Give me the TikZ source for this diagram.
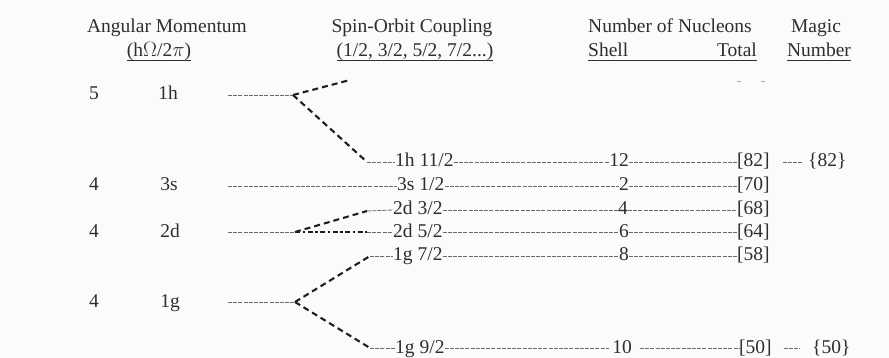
\documentclass[tikz,border=0pt]{standalone}
\usepackage{fontspec}
\setmainfont{Liberation Serif}
\definecolor{textgray}{HTML}{2E2E2E}
\definecolor{linegray}{HTML}{6A6A6A}
\definecolor{bg}{HTML}{FBFBF9}
\begin{document}
\begin{tikzpicture}[x=1pt,y=-1pt,
  txt/.style={inner sep=0pt, anchor=base, text=textgray, font=\fontsize{19.5}{22}\selectfont},
  lbl/.style={txt, anchor=base west},
  thinline/.style={draw=linegray, line width=0.8pt, dash pattern=on 4pt off 1.2pt},
  thickdash/.style={draw=black!88, line width=2.1pt, dash pattern=on 6pt off 4pt},
  dotdash/.style={draw=black!88, line width=2.1pt, dash pattern=on 5pt off 2.5pt on 2.5pt off 2.5pt},
  uline/.style={draw=textgray, line width=0.8pt}
]
\fill[bg] (0,0) rectangle (889,358);
\useasboundingbox (0,0) rectangle (889,358);

% headers
\node[txt] (hA1) at (167,33) {Angular Momentum};
\node[txt] (hA2) at (159,57) {(h$\Omega$/2$\pi$)};
\node[txt] (hS1) at (412,33) {Spin-Orbit Coupling};
\node[txt] (hS2) at (415,57) {(1/2, 3/2, 5/2, 7/2...)};
\node[lbl] (hN1) at (588,33) {Number of Nucleons};
\node[lbl] (hN2) at (588,57) {Shell};
\node[txt, anchor=base east] (hN3) at (757,57) {Total};
\node[txt] (hM1) at (816,33) {Magic};
\node[txt] (hM2) at (819,57) {Number};
\draw[uline] ([yshift=-3pt]hA2.base west) -- ([yshift=-3pt]hA2.base east);
\draw[uline] ([yshift=-3pt]hS2.base west) -- ([yshift=-3pt]hS2.base east);
\draw[uline] ([yshift=-3pt]hN2.base west) -- ([yshift=-3pt]hN3.base east);
\draw[uline] ([yshift=-3pt]hM2.base west) -- ([yshift=-3pt]hM2.base east);

% left column
\node[txt] (n5) at (94,100) {5};
\node[txt] (l1h) at (168,100) {1h};
\node[txt] (n4a) at (94,191) {4};
\node[txt] (l3s) at (169,191) {3s};
\node[txt] (n4b) at (94,237) {4};
\node[txt] (l2d) at (170,237) {2d};
\node[txt] (n4c) at (94,307) {4};
\node[txt] (l1g) at (170,307) {1g};

% spin-orbit levels
\node[lbl] (s1h) at (395,167) {1h 11/2};
\node[lbl] (s3s) at (397,191) {3s 1/2};
\node[lbl] (s2a) at (393,215) {2d 3/2};
\node[lbl] (s2b) at (393,237) {2d 5/2};
\node[lbl] (s1a) at (393,261) {1g 7/2};
\node[lbl] (s1b) at (395,353) {1g 9/2};

% shell numbers
\node[txt] (c1h) at (619,167) {12};
\node[txt] (c3s) at (624,191) {2};
\node[txt] (c2a) at (623,215) {4};
\node[txt] (c2b) at (624,237) {6};
\node[txt] (c1a) at (624,261) {8};
\node[txt] (c1b) at (622,353) {10};

% totals
\node[lbl] (t1h) at (737,167) {[82]};
\node[lbl] (t3s) at (737,191) {[70]};
\node[lbl] (t2a) at (737,215) {[68]};
\node[lbl] (t2b) at (737,237) {[64]};
\node[lbl] (t1a) at (737,261) {[58]};
\node[lbl] (t1b) at (739,353) {[50]};

% magic numbers
\node[lbl] (m82) at (808,167) {\{82\}};
\node[lbl] (m50) at (812,353) {\{50\}};

% left connector coordinates
\coordinate (a1h) at (228,95);
\coordinate (b1h) at (293,95);
\coordinate (u1h) at (350,80);
\coordinate (d1h) at (367,162);
\coordinate (a3s) at (228,186);
\coordinate (a2d) at (228,232);
\coordinate (b2d) at (295,232);
\coordinate (u2d) at (367,211);
\coordinate (d2d) at (367,232);
\coordinate (a1g) at (228,302);
\coordinate (b1g) at (295,302);
\coordinate (u1g) at (370,256);
\coordinate (d1g) at (370,348);

% 1h
\draw[thinline] (a1h) -- (b1h);
\draw[thickdash] (b1h) -- (u1h);
\draw[thickdash] (b1h) -- (d1h);
\draw[thinline] (d1h) -- ([yshift=5pt]s1h.base west);
% 3s
\draw[thinline] (a3s) -- ([yshift=5pt]s3s.base west);
% 2d
\draw[thinline] (a2d) -- (b2d);
\draw[thickdash] (b2d) -- (u2d);
\draw[dotdash] (b2d) -- (d2d);
\draw[thinline] (u2d) -- ([yshift=5pt]s2a.base west);
\draw[thinline] (d2d) -- ([yshift=5pt]s2b.base west);
% 1g
\draw[thinline] (a1g) -- (b1g);
\draw[thickdash] (b1g) -- (u1g);
\draw[thickdash] (b1g) -- (d1g);
\draw[thinline] (u1g) -- ([yshift=5pt]s1a.base west);
\draw[thinline] (d1g) -- ([yshift=5pt]s1b.base west);

% right connectors
\foreach \r in {1h,3s,2a,2b,1a} {
  \draw[thinline] ([yshift=5pt]s\r.base east) -- ([yshift=5pt]c\r.base west);
  \draw[thinline] ([yshift=5pt]c\r.base east) -- ([yshift=5pt]t\r.base west);
}
\draw[thinline] ([yshift=5pt]s1b.base east) -- ([xshift=-3pt,yshift=5pt]c1b.base west);
\draw[thinline] ([xshift=8pt,yshift=5pt]c1b.base east) -- ([yshift=5pt]t1b.base west);
\draw[thinline] ([xshift=13pt,yshift=5pt]t1h.base east) -- ([xshift=-5pt,yshift=5pt]m82.base west);
\draw[thinline] ([xshift=12pt,yshift=5pt]t1b.base east) -- ([xshift=-12pt,yshift=5pt]m50.base west);

% faint remnants at top right
\draw[draw=linegray!60, line width=0.8pt] (737,81) -- (741,81);
\draw[draw=linegray!60, line width=0.8pt] (761,81) -- (765,81);
\end{tikzpicture}
\end{document}
